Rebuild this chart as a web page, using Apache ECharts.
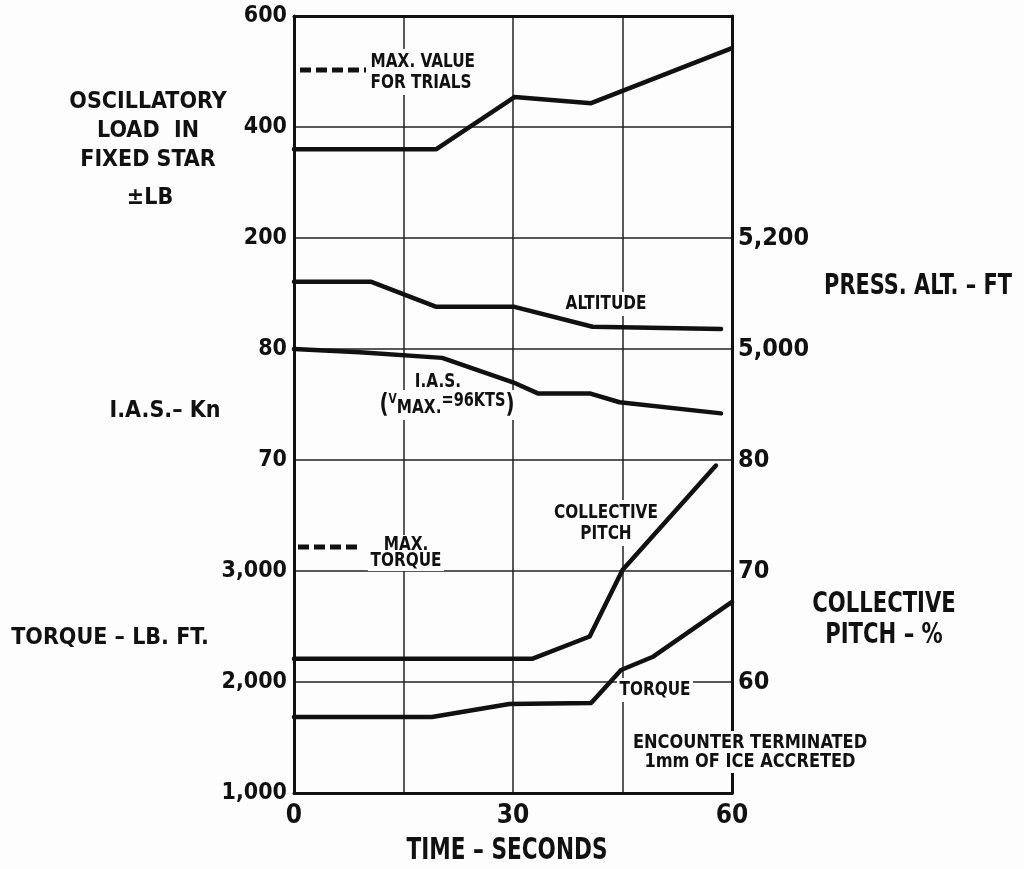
<!DOCTYPE html>
<html><head><meta charset="utf-8">
<script src="https://cdn.jsdelivr.net/npm/echarts@6/dist/echarts.min.js"></script>
<style>html,body{margin:0;padding:0;background:#fdfdfd}#c{width:1024px;height:869px}</style>
</head><body><div id="c"></div>
<script>
// ---- data ----
const timeTicks = [0, 30, 60];
const loadT = [0, 19.5, 30.2, 40.7, 60];
const loadV = [360, 360, 454, 443, 542];
const altT = [0, 10.6, 19.5, 30.2, 40.9, 58.5];
const altV = [5121, 5121, 5076, 5076, 5040, 5036];
const iasT = [0, 9, 20.3, 30, 33.4, 40.5, 44.6, 58.5];
const iasV = [80, 79.7, 79.2, 77.0, 76.0, 76.0, 75.2, 74.2];
const pitchT = [0, 32.7, 40.5, 45, 57.8];
const pitchV = [62.1, 62.1, 64.1, 70.1, 79.5];
const torqueT = [0, 18.9, 29.5, 40.7, 44.8, 49.1, 60];
const torqueV = [1685, 1685, 1802, 1811, 2108, 2225, 2721];
const loadTicks = [200, 400, 600];
const iasTicks = [70, 80];
const torqueTicks = [1000, 2000, 3000];
const altTicks = [5000, 5200];
const pitchTicks = [60, 70, 80];

const INK = '#111';
const BG = '#fdfdfd';
const HEAVY = '"DejaVu Sans Condensed", "DejaVu Sans", sans-serif';
const NARROW = '"Liberation Sans Narrow", "DejaVu Sans Condensed", sans-serif';
const fmt = ticks => v => ticks.includes(v) ? v.toLocaleString('en-US') : '';
const pairs = (t, v) => t.map((x, i) => [x, v[i]]);

const chart = echarts.init(document.getElementById('c'), null, {renderer: 'canvas'});

function yAx(min, max, interval, ticks, pos, opts) {
  return Object.assign({
    type: 'value', min, max, interval, position: pos, offset: 0,
    axisLine: {show: false, onZero: false}, axisTick: {show: false}, splitLine: {show: false},
    axisLabel: pos === 'left'
      ? {formatter: fmt(ticks), color: INK, fontFamily: HEAVY, fontWeight: 'bold', fontSize: 23, margin: 7}
      : {formatter: fmt(ticks), color: INK, fontFamily: NARROW, fontWeight: 'bold', fontSize: 25, margin: 6}
  }, opts || {});
}

const lineS = (name, t, v, yi) => ({
  name, type: 'line', yAxisIndex: yi, data: pairs(t, v), showSymbol: false, symbol: 'none',
  lineStyle: {color: INK, width: 4.5, join: 'round', cap: 'round'}, z: 5, animation: false
});

function txt(text, x, y, size, family, align, sx, extra) {
  return {
    type: 'text', x, y, z: 1, scaleX: sx || 1,
    style: Object.assign({
      text, fill: INK, fontSize: size, fontFamily: family, fontWeight: 'bold',
      align: align || 'center', verticalAlign: 'middle'
    }, extra || {})
  };
}
const bg = (o) => Object.assign({backgroundColor: BG, padding: [2, 3]}, o || {});

chart.setOption({
  backgroundColor: BG,
  animation: false,
  grid: {left: 294, top: 16, width: 438, height: 777, containLabel: false},
  xAxis: [{
    type: 'value', min: 0, max: 60, interval: 15, position: 'bottom',
    axisLine: {show: true, onZero: false, lineStyle: {color: INK, width: 3}},
    axisTick: {show: false},
    splitLine: {show: true, lineStyle: {color: '#222', width: 1.5}},
    axisLabel: {formatter: v => timeTicks.includes(v) ? String(v) : '', color: INK,
      fontFamily: NARROW, fontWeight: 'bold', fontSize: 26, margin: 10}
  }, {
    type: 'value', min: 0, max: 60, position: 'top',
    axisLine: {show: true, onZero: false, lineStyle: {color: INK, width: 3}},
    axisTick: {show: false}, splitLine: {show: false}, axisLabel: {show: false}
  }],
  yAxis: [
    yAx(-800, 600, 200, loadTicks, 'left'),
    yAx(40, 110, 10, iasTicks, 'left'),
    yAx(1000, 8000, 1000, torqueTicks, 'left', {
      axisLine: {show: true, onZero: false, lineStyle: {color: INK, width: 3}},
      splitLine: {show: true, lineStyle: {color: '#222', width: 1.5}}
    }),
    yAx(4200, 5600, 200, altTicks, 'right', {
      axisLine: {show: true, onZero: false, lineStyle: {color: INK, width: 3}}
    }),
    yAx(50, 120, 10, pitchTicks, 'right')
  ],
  series: [
    lineS('Load', loadT, loadV, 0),
    lineS('Altitude', altT, altV, 3),
    lineS('IAS', iasT, iasV, 1),
    lineS('Collective pitch', pitchT, pitchV, 4),
    lineS('Torque', torqueT, torqueV, 2)
  ],
  graphic: {
    elements: [
      // left titles
      txt('OSCILLATORY\nLOAD  IN\nFIXED STAR', 148, 131, 23, HEAVY, 'center', 1, {lineHeight: 29}),
      txt('±LB', 150, 198, 23, HEAVY),
      txt('I.A.S.– Kn', 165, 411, 23, HEAVY),
      txt('TORQUE – LB. FT.', 110, 638, 23, HEAVY),
      // right titles
      txt('PRESS. ALT. – FT', 918, 287, 28, NARROW, 'center', 0.83),
      txt('COLLECTIVE\nPITCH – %', 884, 620, 28, NARROW, 'center', 0.84, {lineHeight: 31}),
      // bottom title
      txt('TIME – SECONDS', 507, 851, 30, NARROW, 'center', 0.8),
      // annotations inside the plot
      txt('MAX. VALUE\nFOR TRIALS', 368, 72, 20, NARROW, 'left', 0.85, bg({lineHeight: 21})),
      txt('ALTITUDE', 606, 304, 20, NARROW, 'center', 0.85, bg()),
      txt('I.A.S.', 438, 382, 20, NARROW, 'center', 0.85, bg()),
      {
        type: 'text', x: 447, y: 405, z: 1, scaleX: 0.85,
        style: {
          text: '{p|(}{v|V}{m|MAX.}{r|=96KTS}{p|)}',
          align: 'center', verticalAlign: 'middle', backgroundColor: BG, padding: [2, 3],
          rich: {
            p: {fontSize: 26, fontFamily: NARROW, fontWeight: 'bold', fill: INK, color: INK},
            v: {fontSize: 14, fontFamily: NARROW, fontWeight: 'bold', fill: INK, color: INK, verticalAlign: 'top'},
            m: {fontSize: 20, fontFamily: NARROW, fontWeight: 'bold', fill: INK, color: INK, verticalAlign: 'bottom'},
            r: {fontSize: 19, fontFamily: NARROW, fontWeight: 'bold', fill: INK, color: INK, verticalAlign: 'top'}
          }
        }
      },
      txt('COLLECTIVE\nPITCH', 606, 523, 20, NARROW, 'center', 0.85, bg({lineHeight: 21})),
      txt('MAX.\nTORQUE', 406, 553, 20, NARROW, 'center', 0.85, bg({lineHeight: 16})),
      txt('TORQUE', 655, 690, 20, NARROW, 'center', 0.85, bg()),
      txt('ENCOUNTER TERMINATED\n1mm OF ICE ACCRETED', 750, 752, 20, NARROW, 'center', 0.9, bg({lineHeight: 19})),
      // dashed legend keys
      {type: 'line', z: 2, shape: {x1: 300, y1: 70, x2: 366, y2: 70},
        style: {stroke: INK, lineWidth: 5, lineDash: [11, 5]}},
      {type: 'line', z: 2, shape: {x1: 298, y1: 547, x2: 362, y2: 547},
        style: {stroke: INK, lineWidth: 5, lineDash: [11, 5]}}
    ]
  }
});
</script>
</body></html>
